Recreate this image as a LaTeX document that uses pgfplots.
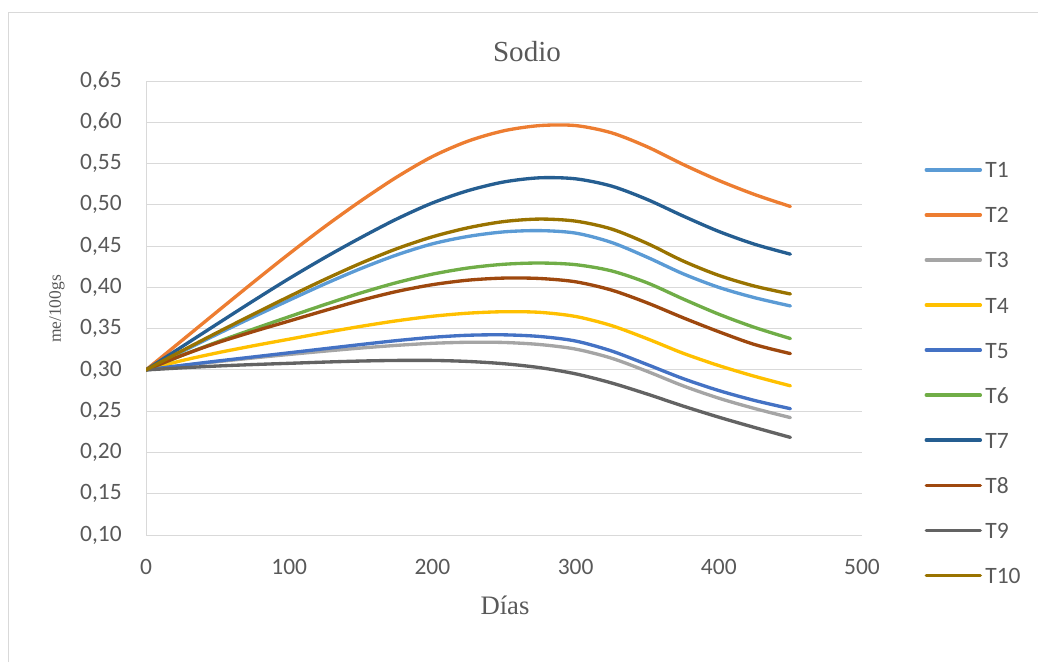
\documentclass[border=0pt]{standalone}
\usepackage{pgfplots}
\pgfplotsset{compat=1.18}
\usepackage{pgfplotstable}
\usepackage{fontspec}
\setmainfont{Liberation Serif}
\newfontfamily\calibri{Carlito}

\definecolor{cT1}{HTML}{5B9BD5}
\definecolor{cT2}{HTML}{ED7D31}
\definecolor{cT3}{HTML}{A5A5A5}
\definecolor{cT4}{HTML}{FFC000}
\definecolor{cT5}{HTML}{4472C4}
\definecolor{cT6}{HTML}{70AD47}
\definecolor{cT7}{HTML}{255E91}
\definecolor{cT8}{HTML}{9E480E}
\definecolor{cT9}{HTML}{636363}
\definecolor{cT10}{HTML}{997300}
\definecolor{txtgray}{HTML}{595959}
\definecolor{gridgray}{HTML}{D9D9D9}

% Sodio (me/100gs) por tratamiento a lo largo de los días
\pgfplotstableread{
x    T1      T2      T3      T4      T5      T6      T7      T8      T9      T10
0    0.300   0.300   0.300   0.300   0.300   0.300   0.300   0.300   0.300   0.300
25   0.322   0.3355  0.30525 0.31125 0.3055  0.3175  0.328   0.3175  0.3025  0.323
50   0.3435  0.371   0.310   0.32075 0.31075 0.334   0.356   0.333   0.30475 0.3455
75   0.36425 0.40625 0.3145  0.32925 0.31575 0.3495  0.38375 0.3465  0.3065  0.3675
100  0.3845  0.44075 0.31875 0.33725 0.32075 0.3645  0.41075 0.35925 0.308   0.389
125  0.40425 0.47375 0.32275 0.34525 0.32575 0.37925 0.43625 0.372   0.3095  0.40975
150  0.42275 0.50475 0.3265  0.35275 0.33075 0.39325 0.46025 0.38425 0.31075 0.42925
175  0.43925 0.5335  0.32975 0.3595  0.3355  0.40575 0.48275 0.395   0.3115  0.44675
200  0.45275 0.5585  0.33225 0.365   0.3395  0.416   0.50225 0.40325 0.3115  0.46125
225  0.46175 0.57725 0.3335  0.36875 0.342   0.4235  0.51725 0.40875 0.31025 0.47225
250  0.46725 0.58975 0.33325 0.3705  0.3425  0.428   0.52775 0.41125 0.3075  0.47975
275  0.46875 0.596   0.33075 0.36975 0.3405  0.4295  0.53275 0.41075 0.30275 0.48275
300  0.46575 0.596   0.32525 0.36475 0.335   0.4275  0.5315  0.40675 0.29525 0.48025
325  0.4545  0.5873  0.31425 0.35375 0.323   0.420   0.52275 0.39675 0.28425 0.47075
350  0.4365  0.5703  0.29825 0.33775 0.3065  0.4055  0.5065  0.38125 0.27075 0.45325
375  0.4165  0.549   0.28075 0.32025 0.2895  0.386   0.4865  0.36325 0.25625 0.432
400  0.400   0.5295  0.26575 0.30525 0.275   0.3675  0.46775 0.34625 0.24275 0.4145
425  0.3875  0.5125  0.25325 0.29225 0.263   0.3515  0.45225 0.33075 0.23025 0.4015
450  0.3775  0.498   0.24225 0.28075 0.253   0.338   0.44025 0.31975 0.21825 0.392
}\sodio

\begin{document}
\begin{tikzpicture}
% chart area frame
\path[use as bounding box] (0pt,0pt) rectangle (778.5pt,-496.5pt);
\draw[gridgray, line width=0.75pt] (6pt,-496.5pt) -- (6pt,-9pt) -- (778.5pt,-9pt);

\begin{axis}[
  at={(109.5pt,-60.75pt)}, anchor=north west,
  scale only axis, width=537pt, height=340.5pt,
  xmin=0, xmax=500, ymin=0.10, ymax=0.65,
  xtick={0,100,...,500},
  ytick={0.10,0.15,...,0.66},
  axis lines=left,
  axis line style={gridgray, line width=0.75pt, -},
  ymajorgrids, grid style={gridgray, line width=0.75pt},
  major tick length=0pt,
  tick label style={font=\calibri\fontsize{17.6}{20}\selectfont, text=txtgray},
  /pgf/number format/assume math mode=true,
  yticklabel style={/pgf/number format/fixed, /pgf/number format/fixed zerofill,
    /pgf/number format/precision=2, /pgf/number format/use comma,
    inner sep=0pt, xshift=-18pt},
  xticklabel style={/pgf/number format/fixed, /pgf/number format/precision=0,
    inner sep=0pt, yshift=-18pt},
  every axis plot/.append style={line width=2.5pt, smooth, tension=0.5, no marks, line cap=round, line join=round},
  legend style={draw=none, fill=none, at={(1.087,0.8226)}, anchor=north west,
    font=\calibri\fontsize{17.6}{20}\selectfont, text=txtgray,
    row sep=21.8pt, column sep=2.5pt, inner sep=0pt,
    nodes={inner sep=0pt, text height=12pt, text depth=0pt}},
  legend cell align=left,
  legend image code/.code={\draw[#1, line width=2.6pt, line cap=round] (1.3pt,0pt) -- (41.8pt,0pt);},
]
\addplot[cT1]  table[x=x, y=T1]  {\sodio}; \addlegendentry{T1}
\addplot[cT2]  table[x=x, y=T2]  {\sodio}; \addlegendentry{T2}
\addplot[cT3]  table[x=x, y=T3]  {\sodio}; \addlegendentry{T3}
\addplot[cT4]  table[x=x, y=T4]  {\sodio}; \addlegendentry{T4}
\addplot[cT5]  table[x=x, y=T5]  {\sodio}; \addlegendentry{T5}
\addplot[cT6]  table[x=x, y=T6]  {\sodio}; \addlegendentry{T6}
\addplot[cT7]  table[x=x, y=T7]  {\sodio}; \addlegendentry{T7}
\addplot[cT8]  table[x=x, y=T8]  {\sodio}; \addlegendentry{T8}
\addplot[cT9]  table[x=x, y=T9]  {\sodio}; \addlegendentry{T9}
\addplot[cT10] table[x=x, y=T10] {\sodio}; \addlegendentry{T10}
\end{axis}

% titles
\node[text=txtgray, font=\fontsize{21.8}{24}\selectfont] at (395.25pt,-39pt) {Sodio};
\node[text=txtgray, font=\fontsize{20}{22}\selectfont] at (378.75pt,-453.75pt) {Días};
\node[text=txtgray, font=\fontsize{13.1}{15}\selectfont, rotate=90] at (42.75pt,-231.75pt) {me/100gs};
\end{tikzpicture}
\end{document}
